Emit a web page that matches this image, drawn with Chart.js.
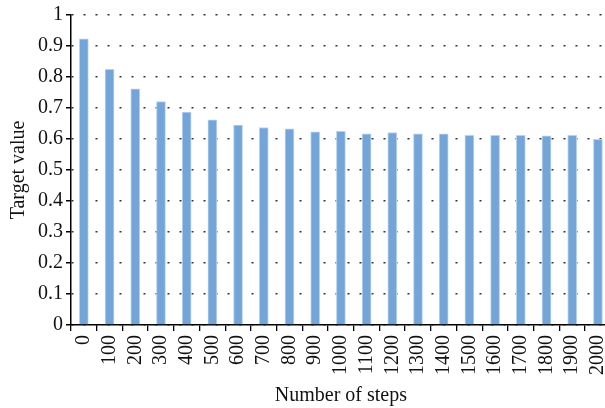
<!DOCTYPE html>
<html>
<head>
<meta charset="utf-8">
<script src="https://cdn.jsdelivr.net/npm/chart.js@4"></script>
<style>
  html, body { margin: 0; padding: 0; background: #fff; overflow: hidden; }
  #wrap { width: 626px; height: 408px; }
</style>
</head>
<body>
<div id="wrap"><canvas id="myChart"></canvas></div>
<script>
const steps = ['0', '100', '200', '300', '400', '500', '600', '700', '800', '900', '1000',
    '1100', '1200', '1300', '1400', '1500', '1600', '1700', '1800', '1900', '2000'];
const targetValues = [0.923, 0.825, 0.762, 0.721, 0.687, 0.662, 0.645, 0.637, 0.633, 0.623, 0.625,
    0.617, 0.621, 0.617, 0.617, 0.612, 0.612, 0.612, 0.610, 0.612, 0.599];

const serif = 'Liberation Serif';

const ctx = document.getElementById('myChart');
new Chart(ctx, {
    type: 'bar',
    data: {
        labels: steps,
        datasets: [{
            label: 'Target value',
            data: targetValues,
            backgroundColor: '#74a5d8',
            borderColor: '#b9d3ee',
            borderWidth: { left: 1, right: 1, top: 1, bottom: 0 },
            barThickness: 9
        }]
    },
    options: {
        responsive: true,
        maintainAspectRatio: false,
        animation: false,
        layout: { padding: { top: 6, right: 3, left: 7, bottom: 0 } },
        plugins: {
            legend: { display: false },
            tooltip: { enabled: false }
        },
        scales: {
            x: {
                grid: { drawOnChartArea: false, drawTicks: true, tickLength: 6, color: '#000', lineWidth: 1.3 },
                border: { color: '#000', width: 1.5 },
                ticks: {
                    color: '#111', minRotation: 90, maxRotation: 90, autoSkip: false, padding: 4,
                    font: { family: serif, size: 20 }
                },
                title: {
                    display: true, text: 'Number of steps', color: '#111',
                    font: { family: serif, size: 20 }, padding: { top: 5, bottom: 0 }
                }
            },
            y: {
                min: 0, max: 1,
                grid: {
                    color: '#333', lineWidth: 1.5,
                    drawTicks: true, tickLength: 5, tickColor: '#000', tickBorderDash: []
                },
                border: { color: '#000', width: 1.5, dash: [2, 10] },
                ticks: {
                    stepSize: 0.1, color: '#111', padding: 3,
                    font: { family: serif, size: 20 },
                    callback: function (value) { return String(Math.round(value * 10) / 10); }
                },
                title: {
                    display: true, text: 'Target value', color: '#111',
                    font: { family: serif, size: 20 }, padding: { top: 0, bottom: 4 }
                }
            }
        }
    }
});
</script>
</body>
</html>
